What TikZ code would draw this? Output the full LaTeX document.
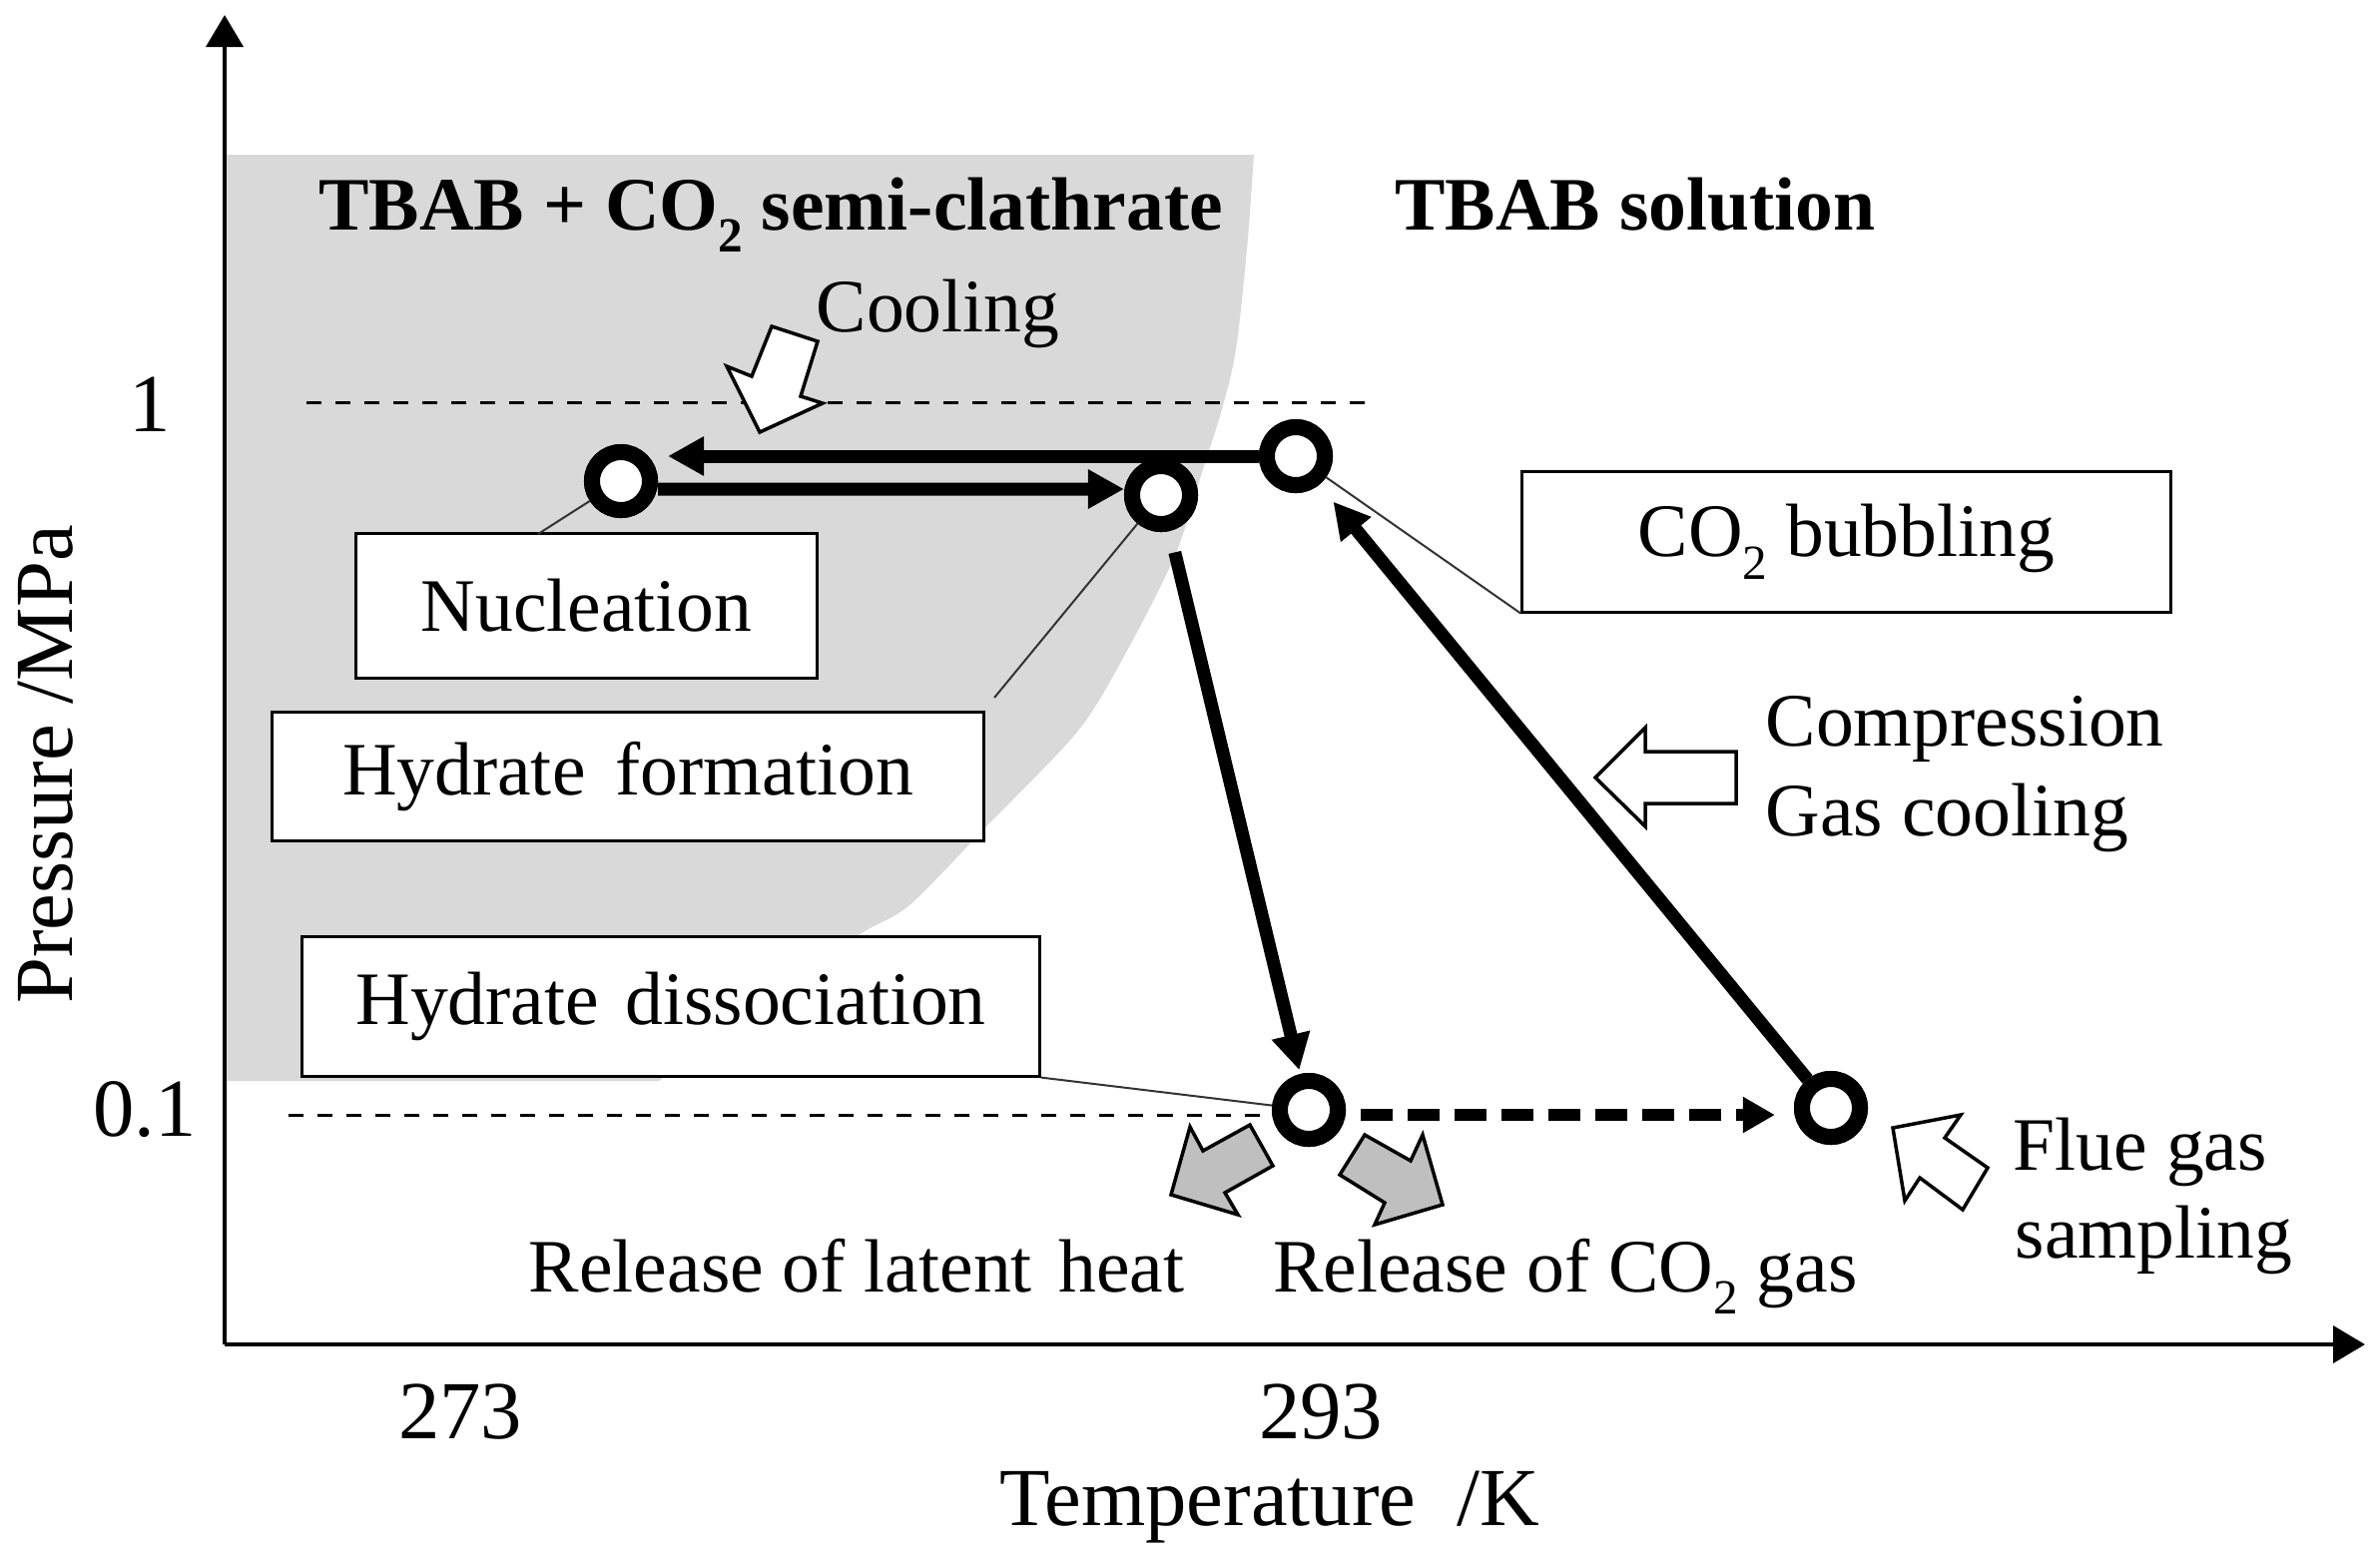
\documentclass[tikz,border=0pt]{standalone}
\usepackage{fontspec}
\setmainfont{Liberation Serif}
\usetikzlibrary{arrows.meta,calc}
\definecolor{regiongray}{HTML}{D9D9D9}
\definecolor{arrowgray}{HTML}{BFBFBF}
\newcommand{\subtwo}{\raisebox{-0.3em}{\fontsize{14}{14}\selectfont 2}}
\begin{document}
\begin{tikzpicture}[x=0.01cm,y=-0.01cm,
  txt/.style={font=\fontsize{21.5}{26}\selectfont, inner sep=0},
  axlab/.style={font=\fontsize{23.5}{28}\selectfont, inner sep=0},
  pt/.style={circle, draw, line width=0.16cm, fill=white, minimum size=0.58cm, inner sep=0},
  labbox/.style={draw, line width=0.03cm, fill=white, inner sep=0, font=\fontsize{21.5}{26}\selectfont},
  flow/.style={line width=0.13cm, -{Triangle[length=0.36cm,width=0.37cm]}},
  dflow/.style={line width=0.12cm, dash pattern=on 0.32cm off 0.15cm, -{Triangle[length=0.32cm,width=0.34cm]}},
  axisline/.style={line width=0.04cm, -{Triangle[length=0.32cm,width=0.37cm]}},
  thindash/.style={line width=0.03cm, dash pattern=on 0.15cm off 0.14cm},
  leader/.style={line width=0.02cm, black!80},
  blockw/.style={draw, line width=0.035cm, fill=white, line join=miter},
  blockg/.style={draw, line width=0.035cm, fill=arrowgray, line join=miter}]
\useasboundingbox (0,0) rectangle (2384,1562);

% hydrate region
\fill[regiongray] (225,155) -- (1256,155)
  -- plot[smooth] coordinates {(1256,155) (1249,250) (1238,350) (1224,410) (1205,470) (1178,554) (1130,650) (1080,732) (988,828) (912,906) (863,935) (760,1000) (660,1083)}
  -- (225,1083) -- cycle;

% guide lines
\coordinate (g1a) at (307,403);
\coordinate (g1b) at (1376,403);
\draw[thindash] (g1a) -- (g1b);

% axes
\coordinate (O) at (225,1347);
\coordinate (ytop) at (225,15);
\coordinate (xend) at (2369,1347);
\draw[axisline] (O) -- (ytop);
\draw[axisline] (O) -- (xend);

% state points
\node[pt] (C1) at (622,482) {};
\node[pt] (C2) at (1163,496) {};
\node[pt] (C3) at (1298,457) {};
\node[pt] (C4) at (1311,1112) {};
\node[pt] (C5) at (1834,1110) {};

\coordinate (g2a) at (289,1117);
\draw[thindash] (g2a) -- (g2a -| C4.west);

% process arrows
\draw[flow, shorten >=0.1cm] (C3.west) -- (C3.west -| C1.east);
\draw[flow] ([yshift=-0.08cm]C1.east) -- ([yshift=0.06cm]C2.west);
\draw[flow, shorten <=0.22cm, shorten >=0.04cm] (C2) -- (C4);
\draw[flow, shorten >=0.22cm] (C5) -- (C3);
\draw[dflow, shorten <=0.15cm, shorten >=0.19cm] ([yshift=-0.05cm]C4.east) -- ([yshift=-0.05cm]C4.east -| C5.west);

% redraw points on top
\node[pt] at (C1) {};
\node[pt] at (C2) {};
\node[pt] at (C3) {};
\node[pt] at (C4) {};
\node[pt] at (C5) {};

% label boxes
\node[labbox, minimum width=4.61cm, minimum height=1.44cm] (nuc) at (587.5,607) {Nucleation};
\node[labbox, minimum width=7.12cm, minimum height=1.28cm] (form) at (629,778) {Hydrate\hspace{0.4em}formation};
\node[labbox, minimum width=7.38cm, minimum height=1.39cm] (diss) at (672,1008.5) {Hydrate\hspace{0.35em}dissociation};
\node[labbox, minimum width=6.49cm, minimum height=1.40cm] (bub) at (1849.5,543) {CO\subtwo{} bubbling};

% leader lines
\coordinate (nucL) at (539,535);
\coordinate (formL) at (996,699);
\draw[leader] (C1) -- (nucL);
\draw[leader] (C2) -- (formL);
\draw[leader] (C3) -- (bub.south west);
\draw[leader] (diss.south east) -- (C4);

% block arrows
\draw[blockw] (773,327) -- (819,342) -- (802,397) -- (824,404) -- (761,433) -- (728,367) -- (753,377) -- cycle;
\draw[blockw] (1598,779) -- (1648,729) -- (1648,753) -- (1739,753) -- (1739,805) -- (1648,805) -- (1648,828) -- cycle;
\draw[blockw] (1896,1130) -- (1964,1117) -- (1948,1140) -- (1991,1170) -- (1966,1212) -- (1923,1180) -- (1908,1203) -- cycle;
\draw[blockg] (1173,1197) -- (1192,1129) -- (1205,1153) -- (1252,1127) -- (1275,1168) -- (1227,1195) -- (1240,1217) -- cycle;
\draw[blockg] (1445,1207) -- (1377,1227) -- (1387,1205) -- (1342,1177) -- (1367,1137) -- (1413,1163) -- (1425,1137) -- cycle;

% texts
\node[txt, font=\fontsize{21.5}{26}\selectfont\bfseries, anchor=base] (t1) at (772,230) {TBAB + CO\subtwo{} semi-clathrate};
\node[txt, font=\fontsize{21.5}{26}\selectfont\bfseries, anchor=base] (t2) at (1638,230) {TBAB solution};
\node[txt, anchor=base west] (cool) at (817,332) {Cooling};
\node[txt, anchor=base west] (comp1) at (1768,747) {Compression};
\node[txt, anchor=base west] (comp2) at (1768,837) {Gas cooling};
\node[txt, anchor=base west] (flue1) at (2016,1172) {Flue gas};
\node[txt, anchor=base west] (flue2) at (2018,1260) {sampling};
\node[txt, anchor=base] (rl) at (858,1294) {Release of latent\hspace{0.35em}heat};
\node[txt, anchor=base] (rc) at (1568,1294) {Release of CO\subtwo{} gas};

\node[axlab, anchor=base] (y1) at (150,432) {1};
\node[axlab, anchor=base] (y01) at (145,1138) {0.1};
\node[axlab, anchor=base] (x273) at (461,1441) {273};
\node[axlab, anchor=base] (x293) at (1323,1441) {293};
\node[axlab, anchor=base] (xl) at (1272,1528) {Temperature\hspace{0.5em}/K};
\node[axlab, rotate=90, anchor=base] (yl) at (72,766) {Pressure /MPa};
\end{tikzpicture}
\end{document}
